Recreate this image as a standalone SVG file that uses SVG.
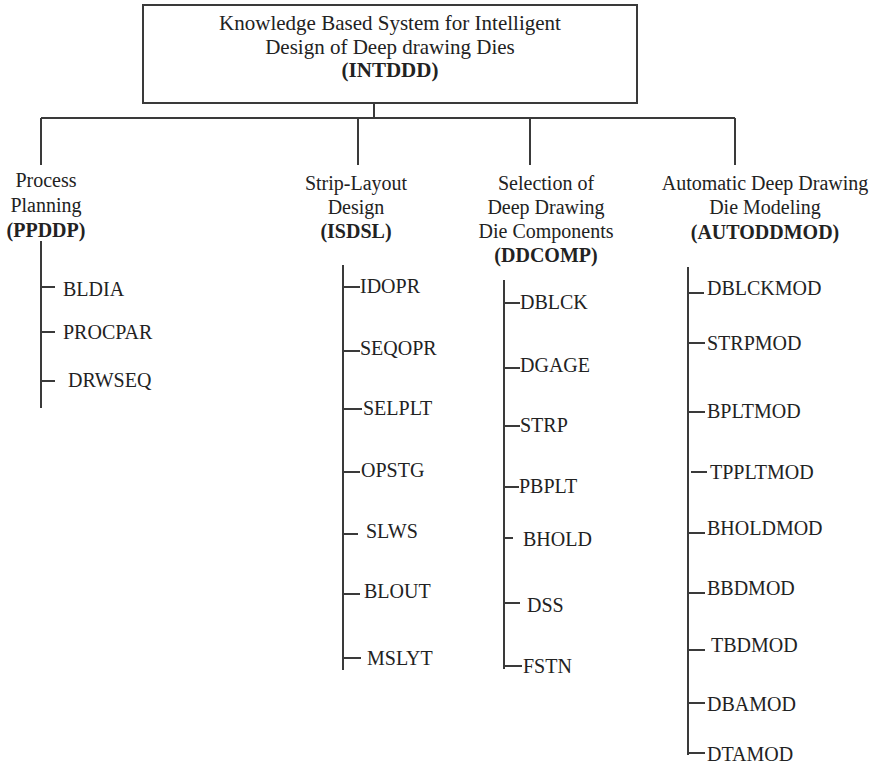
<svg xmlns="http://www.w3.org/2000/svg" width="881" height="768" viewBox="0 0 881 768">
  <style>
    .ln { stroke: #3a3a3a; stroke-width: 2; fill: none; }
    .t { font-family: "Liberation Serif", "Times New Roman", serif; font-size: 20px; fill: #222; }
    .h { text-anchor: middle; }
    .b { font-weight: bold; }
    .title { font-size: 21px; }
  </style>
  <rect width="881" height="768" fill="#fff"/>

  <!-- root node -->
  <g id="root">
    <rect class="ln" x="143" y="5" width="494" height="98"/>
    <text class="t h title" x="390" y="30">Knowledge Based System for Intelligent</text>
    <text class="t h title" x="390" y="54">Design of Deep drawing Dies</text>
    <text class="t h title b" x="390" y="77">(INTDDD)</text>
  </g>

  <!-- connectors: root to modules, module spines and ticks -->
  <g id="connectors" class="ln">
    <path d="M374 103V118M41 118H735M41 118V165M358 118V165M530 118V165M735 118V165"/>
    <path d="M41 241V408M41 287H55M41 332H55M41 381H55"/>
    <path d="M343 265V670M343 287H360M343 351H360M343 409H362M343 472H360M343 534H358M343 594H360M343 658H361"/>
    <path d="M504 280V669M504 303H520M504 368H520M504 426H520M504 487H519M504 538H513M504 603H520M504 666H522"/>
    <path d="M688 267V755M689 293H704M689 343H705M689 412H705M691 472H707M689 533H705M689 593H705M689 650H705M689 703H705M689 753H705"/>
  </g>

  <!-- module: process planning -->
  <g id="ppddp">
    <text class="t h" x="46" y="187">Process</text>
    <text class="t h" x="46" y="212">Planning</text>
    <text class="t h b" x="46" y="237">(PPDDP)</text>
    <text class="t" x="63" y="296">BLDIA</text>
    <text class="t" x="63" y="339">PROCPAR</text>
    <text class="t" x="68" y="387">DRWSEQ</text>
  </g>

  <!-- module: strip-layout design -->
  <g id="isdsl">
    <text class="t h" x="356" y="190">Strip-Layout</text>
    <text class="t h" x="356" y="214">Design</text>
    <text class="t h b" x="356" y="238">(ISDSL)</text>
    <text class="t" x="360" y="293">IDOPR</text>
    <text class="t" x="360" y="355">SEQOPR</text>
    <text class="t" x="363" y="415">SELPLT</text>
    <text class="t" x="361" y="477">OPSTG</text>
    <text class="t" x="366" y="538">SLWS</text>
    <text class="t" x="364" y="598">BLOUT</text>
    <text class="t" x="367" y="665">MSLYT</text>
  </g>

  <!-- module: die component selection -->
  <g id="ddcomp">
    <text class="t h" x="546" y="190">Selection of</text>
    <text class="t h" x="546" y="214">Deep Drawing</text>
    <text class="t h" x="546" y="238">Die Components</text>
    <text class="t h b" x="546" y="262">(DDCOMP)</text>
    <text class="t" x="520" y="309">DBLCK</text>
    <text class="t" x="520" y="372">DGAGE</text>
    <text class="t" x="520" y="432">STRP</text>
    <text class="t" x="519" y="493">PBPLT</text>
    <text class="t" x="523" y="546">BHOLD</text>
    <text class="t" x="527" y="612">DSS</text>
    <text class="t" x="523" y="673">FSTN</text>
  </g>

  <!-- module: automatic die modeling -->
  <g id="autoddmod">
    <text class="t h" x="765" y="190">Automatic Deep Drawing</text>
    <text class="t h" x="765" y="214">Die Modeling</text>
    <text class="t h b" x="765" y="239">(AUTODDMOD)</text>
    <text class="t" x="707" y="295">DBLCKMOD</text>
    <text class="t" x="707" y="350">STRPMOD</text>
    <text class="t" x="707" y="418">BPLTMOD</text>
    <text class="t" x="710" y="479">TPPLTMOD</text>
    <text class="t" x="707" y="535">BHOLDMOD</text>
    <text class="t" x="707" y="595">BBDMOD</text>
    <text class="t" x="711" y="652">TBDMOD</text>
    <text class="t" x="707" y="711">DBAMOD</text>
    <text class="t" x="707" y="761">DTAMOD</text>
  </g>
</svg>
